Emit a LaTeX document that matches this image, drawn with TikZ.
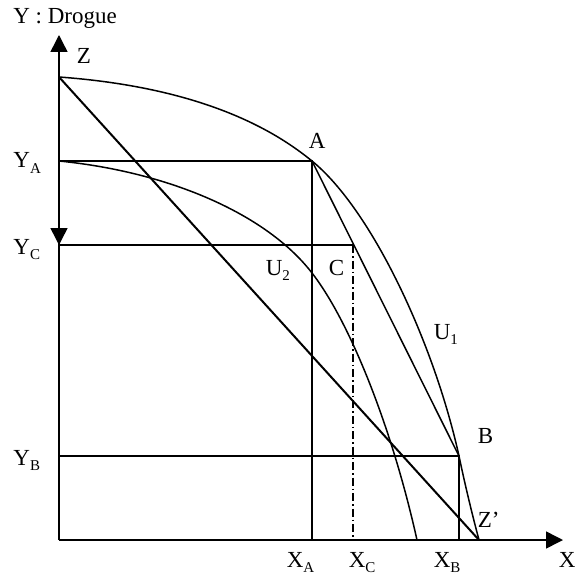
\documentclass[tikz,border=0pt]{standalone}
\usepackage{fontspec}
\setmainfont{Liberation Serif}
\usetikzlibrary{arrows.meta}
\newcommand\lsub[1]{\raisebox{-0.26em}{\fontsize{15}{15}\selectfont #1}}
\begin{document}
\begin{tikzpicture}[x=1pt,y=-1pt,line width=1.5pt,
  lbl/.style={font=\fontsize{23}{27}\selectfont,inner sep=0pt,anchor=base west},
  axarrow/.style={-{Triangle[length=17pt,width=17pt]}},
  dashdot/.style={line width=1.3pt,dash pattern=on 8pt off 3pt on 1.5pt off 3pt},
  curve/.style={line width=1.5pt},
  budget/.style={line width=2pt}]
\useasboundingbox (0,0) rectangle (574,575);
% points
\coordinate (O) at (59,540);
\coordinate (Ytop) at (59,35);
\coordinate (Xend) at (563,540);
\coordinate (Z) at (59,77);
\coordinate (YA) at (59,161);
\coordinate (YC) at (59,245);
\coordinate (YB) at (59,456);
\coordinate (A) at (312,161);
\coordinate (C) at (353,245);
\coordinate (B) at (459,456);
\coordinate (Zp) at (479,540);
\coordinate (XA) at (312,540);
\coordinate (XC) at (353,540);
\coordinate (XB) at (459,540);
\coordinate (U2s) at (59,161);
\coordinate (U2m) at (312,273);
\coordinate (U2e) at (417,540);
% axes
\draw[axarrow] (O) -- (Ytop);
\draw[axarrow] (O) -- (Xend);
\draw[axarrow] (Z) -- (YC);
% guide lines
\draw (YA) -- (A) -- (XA);
\draw (YC) -- (C);
\draw[dashdot] (C) -- (XC);
\draw (YB) -- (B) -- (XB);
% chord A-B
\draw (A) -- (B);
% budget line Z-Z'
\draw[budget] (Z) -- (Zp);
% U1
\draw[curve] (Z) .. controls (210,88) and (280,135) .. (A)
  .. controls (372,210) and (434,343) .. (B)
  .. controls (464,480) and (471,510) .. (Zp);
% U2
\draw[curve] (U2s) .. controls (170,172) and (267,214.5) .. (U2m)
  .. controls (350,322) and (392,427.5) .. (U2e);
% labels
\node[lbl] (ttl) at (12.5,23.3) {Y : Drogue};
\node[lbl] (lZ) at (76,64) {Z};
\node[lbl] (lYA) at (12.7,167.3) {Y\lsub{A}};
\node[lbl] (lYC) at (12.7,254) {Y\lsub{C}};
\node[lbl] (lYB) at (12.7,465) {Y\lsub{B}};
\node[lbl] (lA) at (308,148) {A};
\node[lbl] (lU2) at (265,275) {U\lsub{2}};
\node[lbl] (lC) at (328,275) {C};
\node[lbl] (lU1) at (433,339) {U\lsub{1}};
\node[lbl] (lB) at (477,443) {B};
\node[lbl] (lZp) at (477,527) {Z’};
\node[lbl] (lXA) at (286,567) {X\lsub{A}};
\node[lbl] (lXC) at (348,567) {X\lsub{C}};
\node[lbl] (lXB) at (433,567) {X\lsub{B}};
\node[lbl] (lX) at (558,567) {X};
\end{tikzpicture}
\end{document}
